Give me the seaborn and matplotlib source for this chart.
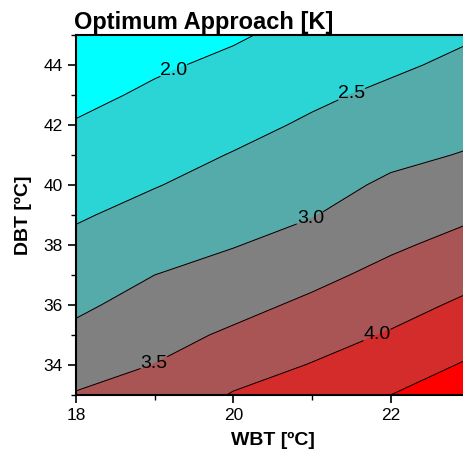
import numpy as np
import matplotlib
matplotlib.use('Agg')
import matplotlib.pyplot as plt
from matplotlib.ticker import MultipleLocator
import seaborn as sns

sns.set_theme(style='ticks')
plt.rcParams['font.family'] = ['Liberation Sans', 'DejaVu Sans']
plt.rcParams['text.color'] = 'black'
plt.rcParams['axes.labelcolor'] = 'black'
plt.rcParams['xtick.color'] = 'black'
plt.rcParams['ytick.color'] = 'black'

# grid
wbt = [18, 19, 20, 21, 22, 23]
dbt = [33, 34, 35, 36, 37, 38, 39, 40, 41, 42, 43, 44, 45]
# optimum approach [K], one row per DBT value, one column per WBT value
approach = [
    [3.53, 3.68, 4.03, 4.24, 4.50, 4.78],
    [3.31, 3.51, 3.80, 4.02, 4.27, 4.55],
    [3.10, 3.34, 3.57, 3.81, 4.04, 4.32],
    [2.92, 3.17, 3.36, 3.59, 3.83, 4.09],
    [2.76, 3.00, 3.17, 3.38, 3.63, 3.87],
    [2.61, 2.83, 2.98, 3.17, 3.43, 3.65],
    [2.45, 2.65, 2.82, 2.98, 3.25, 3.44],
    [2.31, 2.48, 2.67, 2.84, 3.07, 3.24],
    [2.17, 2.34, 2.52, 2.70, 2.90, 3.03],
    [2.03, 2.21, 2.37, 2.56, 2.75, 2.88],
    [1.89, 2.07, 2.23, 2.42, 2.59, 2.74],
    [1.75, 1.94, 2.09, 2.28, 2.43, 2.60],
    [1.60, 1.80, 1.95, 2.14, 2.27, 2.46],
]
fill_levels = [1.5, 2.0, 2.5, 3.0, 3.5, 4.0, 4.5, 5.0]
line_levels = [2.0, 2.5, 3.0, 3.5, 4.0, 4.5]
label_levels = [2.0, 2.5, 3.0, 3.5, 4.0]

# cyan -> grey -> red, one colour per band
band_colors = [(t, 1 - t, 1 - t) for t in np.linspace(0, 1, 7)]

X, Y = np.meshgrid(wbt, dbt)
Z = np.array(approach)

fig = plt.figure(figsize=(4.63, 4.63), dpi=100)
ax = fig.add_axes([0.1641, 0.1469, 0.8495, 0.7775])

ax.contourf(X, Y, Z, levels=fill_levels, colors=band_colors)
cs = ax.contour(X, Y, Z, levels=line_levels, colors='black', linewidths=0.7)
labels = ax.clabel(cs, levels=label_levels, fmt='%.1f', fontsize=14,
                   inline=True, inline_spacing=1,
                   manual=[(19.28, 43.6), (21.52, 42.93), (20.99, 38.8),
                           (19.0, 34.02), (21.84, 34.92)])
for t in labels:
    t.set_rotation(0)
    t.set_color('black')

ax.set_xlim(18, 23)
ax.set_ylim(33, 45)
ax.xaxis.set_major_locator(MultipleLocator(2))
ax.xaxis.set_minor_locator(MultipleLocator(1))
ax.yaxis.set_major_locator(MultipleLocator(2))
ax.yaxis.set_minor_locator(MultipleLocator(1))
ax.tick_params(which='major', direction='out', length=6, width=1.2,
               labelsize=12.5, color='black', labelcolor='black')
ax.tick_params(which='minor', direction='out', length=3.5, width=1.0,
               color='black')
for side in ['left', 'bottom', 'top', 'right']:
    ax.spines[side].set_linewidth(1.5)
    ax.spines[side].set_color('black')

ax.set_xlabel('WBT [ºC]', fontsize=14, fontweight='bold', labelpad=6)
ax.set_ylabel('DBT [ºC]', fontsize=14, fontweight='bold', labelpad=8)
ax.set_title('Optimum Approach [K]', fontsize=17, fontweight='bold',
             loc='left', pad=4, x=-0.005)

fig.savefig('out.png', dpi=100)
